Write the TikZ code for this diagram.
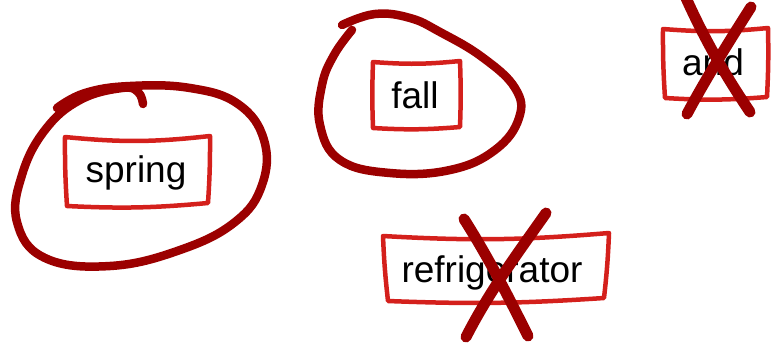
\documentclass[tikz,border=0pt]{standalone}
\usepackage{fontspec}
\setmainfont{Liberation Sans}
\definecolor{boxred}{RGB}{212,32,28}
\definecolor{inkred}{RGB}{155,0,0}
\begin{document}
\begin{tikzpicture}[x=1pt,y=-1pt, line join=round, line cap=round, font=\fontsize{37}{44}\selectfont,
	word/.style={inner sep=0pt, anchor=base},
	sketchbox/.style={draw=boxred, line width=4.5pt},
	ink/.style={draw=inkred, line width=8.5pt},
	cross/.style={draw=inkred, line width=11pt}]
	\useasboundingbox (0,0) rectangle (775,346);
	% boxed words
	\draw[sketchbox] (65,137) to[bend right=6] (210,136) to[bend left=2] (208,203) to[bend left=4] (67,206) to[bend left=2] cycle;
	\node[word] (spring) at (136,182) {spring};
	\draw[sketchbox] (373,62) to[bend right=5] (460,61) to[bend left=2] (460,127) to[bend left=4] (373,128) to[bend left=2] cycle;
	\node[word] (fall) at (415,108) {fall};
	\draw[sketchbox] (383,236) to[bend right=4] (609,233) to[bend left=2] (604,298) to[bend left=3] (388,301) to[bend left=2] cycle;
	\node[word] (fridge) at (492,282) {refrigerator};
	\draw[sketchbox] (663,29) to[bend right=5] (768,28) to[bend left=2] (767,97) to[bend left=4] (665,98) to[bend left=2] cycle;
	\node[word] (and) at (713,75) {and};
	% circles
	\draw[ink] plot[smooth, tension=0.7] coordinates {(57,108) (85,93) (130,86) (190,88) (238,104) (264,140) (262,185) (235,222) (180,250) (110,266) (45,258) (17,222) (22,175) (45,130) (80,100) (122,88) (138,92) (143,104)};
	\draw[ink] plot[smooth, tension=0.7] coordinates {(342,25) (375,14) (410,18) (440,32) (482,57) (515,88) (519,118) (495,150) (450,170) (390,173) (340,160) (320,125) (322,85) (334,55) (352,30)};
	% crosses
	\draw[cross] (464,219) .. controls (490,260) and (510,300) .. (528,336);
	\draw[cross] (546,213) .. controls (520,250) and (490,290) .. (466,337);
	\draw[cross] (686,-2) .. controls (705,40) and (725,75) .. (750,112);
	\draw[cross] (751,7) .. controls (730,40) and (705,80) .. (687,114);
\end{tikzpicture}
\end{document}
